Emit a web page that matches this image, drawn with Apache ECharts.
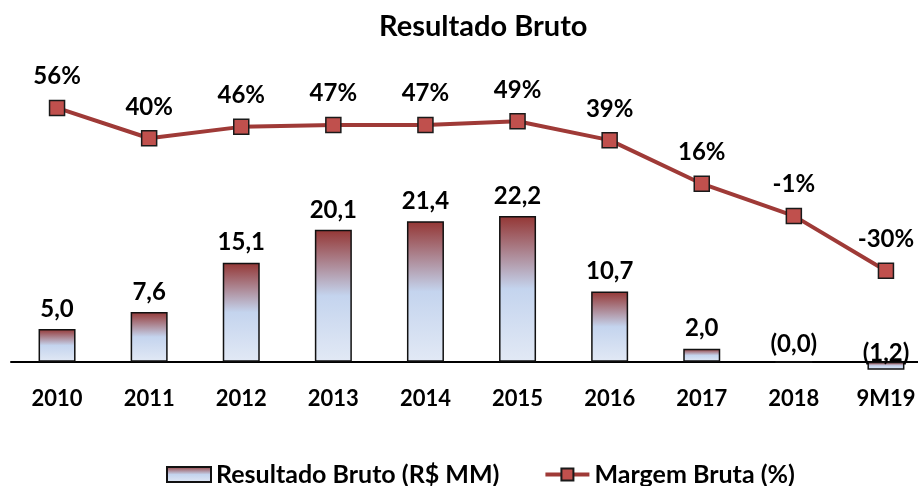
<!DOCTYPE html>
<html>
<head>
<meta charset="utf-8">
<script src="https://cdn.jsdelivr.net/npm/echarts@6/dist/echarts.min.js"></script>
<style>
html, body { margin: 0; padding: 0; background: #fff; }
#main { width: 918px; height: 486px; }
</style>
</head>
<body>
<div id="main"></div>
<script>
const categories = ['2010', '2011', '2012', '2013', '2014', '2015', '2016', '2017', '2018', '9M19'];
// Resultado Bruto (R$ MM)
const resultadoBruto = [5.0, 7.6, 15.1, 20.1, 21.4, 22.2, 10.7, 2.0, -0.02, -1.2];
// Margem Bruta (%)
const margemBruta = [56, 40, 46, 47, 47, 49, 39, 16, -1, -30];

const FONT = 'Lato, "Liberation Sans", sans-serif';

function fmtBr(v) {
    const s = Math.abs(v).toFixed(1).replace('.', ',');
    return v < 0 ? '(' + s + ')' : s;
}

const chart = echarts.init(document.getElementById('main'));

const barFill = new echarts.graphic.LinearGradient(0, 0, 0, 1, [
    { offset: 0, color: '#943634' },
    { offset: 0.5, color: '#c4d4ee' },
    { offset: 1, color: '#e2e9f5' }
]);

// labels of negative bars sit lower, as in the original
const barData = resultadoBruto.map(v => v < 0
    ? { value: v, label: { distance: v < -0.5 ? -3 : 5 } }
    : v);

const option = {
    animation: false,
    textStyle: { fontFamily: FONT },
    title: {
        text: 'Resultado Bruto',
        left: 374,
        top: 7,
        textStyle: { fontFamily: FONT, fontSize: 29, fontWeight: 'bold', color: '#000' }
    },
    legend: {
        top: 457,
        left: 161,
        itemGap: 44,
        itemWidth: 44,
        itemHeight: 15,
        textStyle: { fontFamily: FONT, fontSize: 25, fontWeight: 'bold', color: '#000' },
        data: [
            { name: 'Resultado Bruto (R$ MM)', icon: 'rect' },
            { name: 'Margem Bruta (%)', lineStyle: { width: 4 } }
        ]
    },
    grid: {
        left: 11,
        top: 53,
        width: 921,
        height: 322,
        outerBoundsMode: 'none'
    },
    xAxis: {
        type: 'category',
        data: categories,
        axisTick: { show: false },
        axisLine: { onZero: true, onZeroAxisIndex: 0, lineStyle: { color: '#000', width: 2 } },
        axisLabel: { fontFamily: FONT, fontSize: 22, fontWeight: 'bold', color: '#000', margin: 13 }
    },
    yAxis: [
        { type: 'value', min: -2, max: 47, show: false, splitLine: { show: false } },
        { type: 'value', min: -85, max: 85, show: false, splitLine: { show: false } }
    ],
    series: [
        {
            name: 'Resultado Bruto (R$ MM)',
            type: 'bar',
            yAxisIndex: 0,
            barWidth: 37,
            data: barData,
            itemStyle: { color: barFill, borderColor: '#111', borderWidth: 1.5 },
            label: {
                show: true,
                position: 'top',
                distance: 8,
                fontFamily: FONT,
                fontSize: 24,
                fontWeight: 'bold',
                color: '#000',
                formatter: p => fmtBr(p.value)
            }
        },
        {
            name: 'Margem Bruta (%)',
            type: 'line',
            yAxisIndex: 1,
            data: margemBruta,
            z: 5,
            symbol: 'rect',
            symbolSize: 15,
            lineStyle: { color: '#9f3a37', width: 4 },
            itemStyle: { color: '#c0504d', borderColor: '#1a1a1a', borderWidth: 1.5 },
            label: {
                show: true,
                position: 'top',
                distance: 11,
                fontFamily: FONT,
                fontSize: 24,
                fontWeight: 'bold',
                color: '#000',
                formatter: p => p.value + '%'
            }
        }
    ]
};

chart.setOption(option);
window.addEventListener('resize', () => chart.resize());
</script>
</body>
</html>
